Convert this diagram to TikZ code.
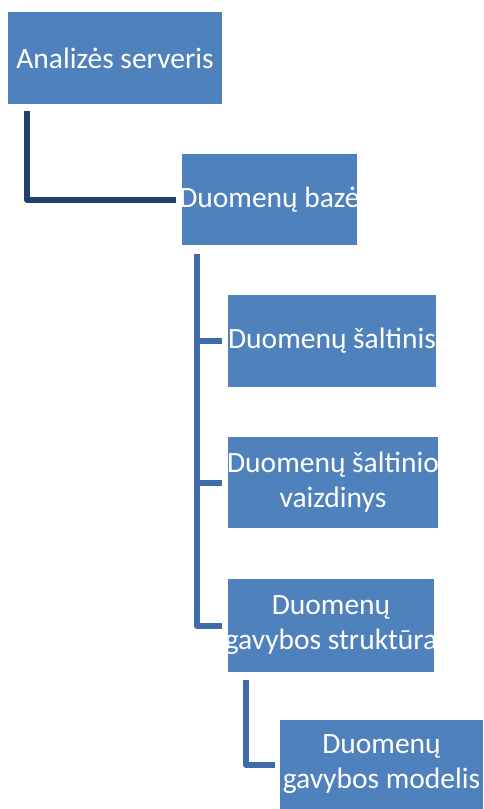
\documentclass[tikz,border=0pt]{standalone}
\usepackage{fontspec}
\setmainfont{Carlito}
\usetikzlibrary{positioning}
\definecolor{boxblue}{HTML}{4F81BD}
\definecolor{darklink}{HTML}{1F3F6E}
\definecolor{midlink}{HTML}{3D6CA8}
\tikzset{
  box/.style={fill=boxblue,text=white,inner xsep=-12pt,inner ysep=0pt,align=center,
    font=\fontsize{29.5}{35}\selectfont},
  toplink/.style={line width=6pt,draw=darklink,line join=round},
  sublink/.style={line width=6pt,draw=midlink,line join=round}
}

\begin{document}
\begin{tikzpicture}[x=1pt,y=-1pt]
\useasboundingbox (0,0) rectangle (483,809);
% boxes
\node[box,minimum width=214pt,minimum height=92pt] (srv) at (115,58) {Analizės serveris};
\node[box,minimum width=175pt,minimum height=91pt] (db) at (269.5,199.5) {Duomenų bazė};
\node[box,minimum width=208pt,minimum height=92pt] (src) at (332,341) {Duomenų šaltinis};
\node[box,minimum width=210pt,minimum height=91pt] (view) at (333,482.5) {Duomenų šaltinio\\vaizdinys};
\node[box,minimum width=206pt,minimum height=93pt] (struct) at (331,625.5) {Duomenų\\gavybos struktūra};
\node[box,minimum width=203pt,minimum height=89pt] (model) at (381.5,764.5) {Duomenų\\gavybos modelis};
% links
\coordinate (srvtop) at ([xshift=19pt,yshift=-7pt]srv.south west);
\draw[toplink] (srvtop) |- ([xshift=-6pt]db.west);
\coordinate (dbtop) at ([xshift=15pt,yshift=-9pt]db.south west);
\draw[sublink] (dbtop) |- ([xshift=-6pt]struct.west);
\draw[sublink] (dbtop |- src.west) -- ([xshift=-6pt]src.west);
\draw[sublink] (dbtop |- view.west) -- ([xshift=-6pt]view.west);
\coordinate (structtop) at ([xshift=18pt,yshift=-8pt]struct.south west);
\draw[sublink] (structtop) |- ([xshift=-5pt]model.west);
\end{tikzpicture}
\end{document}
